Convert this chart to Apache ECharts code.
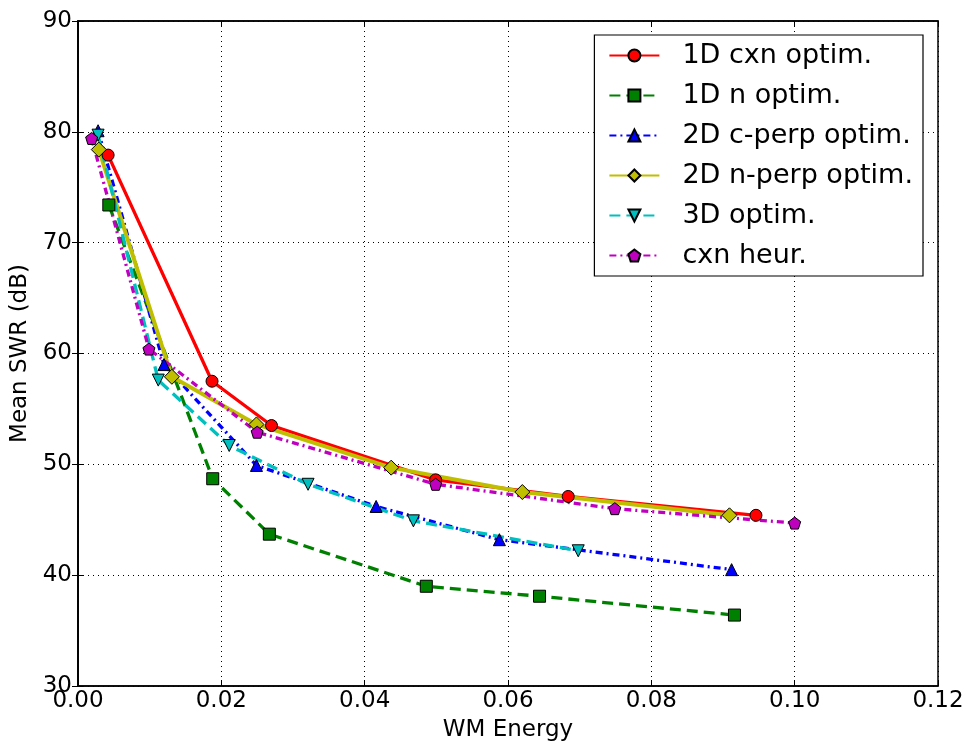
<!DOCTYPE html>
<html>
<head>
<meta charset="utf-8">
<script src="https://cdn.jsdelivr.net/npm/echarts@6/dist/echarts.min.js"></script>
<style>html,body{margin:0;padding:0;background:#fff}#c{width:971px;height:747px}</style>
</head>
<body>
<div id="c"></div>
<script>
const seriesNames = ['1D cxn optim.', '1D n optim.', '2D c-perp optim.', '2D n-perp optim.', '3D optim.', 'cxn heur.'];
const xTicks = [0.00, 0.02, 0.04, 0.06, 0.08, 0.10, 0.12];
const yTicks = [30, 40, 50, 60, 70, 80, 90];

const cxn1D_x = [0.0042, 0.0187, 0.0270, 0.0499, 0.0684, 0.0946];
const cxn1D_y = [77.9, 57.5, 53.5, 48.6, 47.1, 45.4];

const n1D_x = [0.0043, 0.0188, 0.0267, 0.0486, 0.0644, 0.0916];
const n1D_y = [73.4, 48.7, 43.7, 39.0, 38.1, 36.4];

const cperp2D_x = [0.0028, 0.0120, 0.0249, 0.0416, 0.0588, 0.0912];
const cperp2D_y = [80.1, 59.0, 49.9, 46.2, 43.2, 40.5];

const nperp2D_x = [0.0029, 0.0131, 0.0249, 0.0437, 0.0620, 0.0909];
const nperp2D_y = [78.4, 57.9, 53.6, 49.7, 47.5, 45.4];

const opt3D_x = [0.0028, 0.0112, 0.0211, 0.0321, 0.0468, 0.0698];
const opt3D_y = [79.7, 57.6, 51.7, 48.2, 44.9, 42.2];

const heur_x = [0.0019, 0.0099, 0.0250, 0.0499, 0.0749, 0.1000];
const heur_y = [79.4, 60.4, 52.9, 48.2, 46.0, 44.7];

const pentagon = 'path://M0,-1 L0.951,-0.309 L0.588,0.809 L-0.588,0.809 L-0.951,-0.309 Z';

function pts(xs, ys) { return xs.map((x, i) => [x, ys[i]]); }

const font = 'DejaVu Sans';
const chart = echarts.init(document.getElementById('c'), null, {renderer: 'canvas'});

function mk(name, xs, ys, color, lineType, width, symbol, size, rotate) {
  return {
    name: name, type: 'line', data: pts(xs, ys),
    xAxisIndex: 0, yAxisIndex: 0,
    symbol: symbol, symbolSize: size, symbolRotate: rotate || 0,
    showAllSymbol: true,
    lineStyle: {color: color, width: width, type: lineType},
    itemStyle: {color: color, borderColor: '#000', borderWidth: 1},
    emphasis: {disabled: true},
    animation: false
  };
}

const option = {
  animation: false,
  backgroundColor: '#fff',
  grid: {left: 78, right: 33, top: 21, bottom: 61, show: true, borderColor: '#000', borderWidth: 1.5, backgroundColor: 'transparent'},
  xAxis: [{
    type: 'value', min: xTicks[0], max: xTicks[xTicks.length - 1], interval: 0.02,
    name: 'WM Energy', nameLocation: 'middle', nameGap: 33,
    nameTextStyle: {fontFamily: font, fontSize: 23, color: '#000'},
    axisLine: {show: true, lineStyle: {color: '#000', width: 1.5}},
    axisTick: {show: true, inside: true, length: 6, lineStyle: {color: '#000'}},
    axisLabel: {fontFamily: font, fontSize: 23, color: '#000', margin: 4, formatter: v => v.toFixed(2)},
    splitLine: {show: true, lineStyle: {color: '#000', type: [1, 4], width: 1}}
  }, {
    type: 'value', position: 'top', min: xTicks[0], max: xTicks[xTicks.length - 1], interval: 0.02,
    axisLine: {show: true, lineStyle: {color: '#000', width: 1.5}},
    axisTick: {show: true, inside: true, length: 6, lineStyle: {color: '#000'}},
    axisLabel: {show: false}, splitLine: {show: false}
  }],
  yAxis: [{
    type: 'value', min: yTicks[0], max: yTicks[yTicks.length - 1], interval: 10,
    name: 'Mean SWR (dB)', nameLocation: 'middle', nameGap: 46,
    nameTextStyle: {fontFamily: font, fontSize: 23, color: '#000'},
    axisLine: {show: true, lineStyle: {color: '#000', width: 1.5}},
    axisTick: {show: true, inside: true, length: 6, lineStyle: {color: '#000'}},
    axisLabel: {fontFamily: font, fontSize: 23, color: '#000', margin: 6},
    splitLine: {show: true, lineStyle: {color: '#000', type: [1, 4], width: 1}}
  }, {
    type: 'value', position: 'right', min: yTicks[0], max: yTicks[yTicks.length - 1], interval: 10,
    axisLine: {show: true, lineStyle: {color: '#000', width: 1.5}},
    axisTick: {show: true, inside: true, length: 6, lineStyle: {color: '#000'}},
    axisLabel: {show: false}, splitLine: {show: false}
  }],
  legend: {
    orient: 'vertical', right: 48, top: 35,
    backgroundColor: '#fff', borderColor: '#000', borderWidth: 1.2,
    padding: [7, 10, 7, 14],
    itemWidth: 50, itemHeight: 15, itemGap: 13,
    textStyle: {fontFamily: font, fontSize: 27, lineHeight: 27, color: '#000', padding: [0, 0, 0, 18]},
    data: seriesNames
  },
  series: [
    mk(seriesNames[0], cxn1D_x, cxn1D_y, '#ff0000', 'solid', 3.3, 'circle', 12),
    mk(seriesNames[1], n1D_x, n1D_y, '#008000', [11, 6], 3.3, 'rect', 12),
    mk(seriesNames[2], cperp2D_x, cperp2D_y, '#0000ff', [7, 4, 2, 4], 3.3, 'triangle', 12),
    mk(seriesNames[3], nperp2D_x, nperp2D_y, '#bfbf00', 'solid', 4, 'diamond', 15),
    mk(seriesNames[4], opt3D_x, opt3D_y, '#00bfbf', [11, 6], 3.3, 'triangle', 12, 180),
    mk(seriesNames[5], heur_x, heur_y, '#bf00bf', [7, 4, 2, 4], 3.3, pentagon, 12)
  ]
};
chart.setOption(option);
</script>
</body>
</html>
